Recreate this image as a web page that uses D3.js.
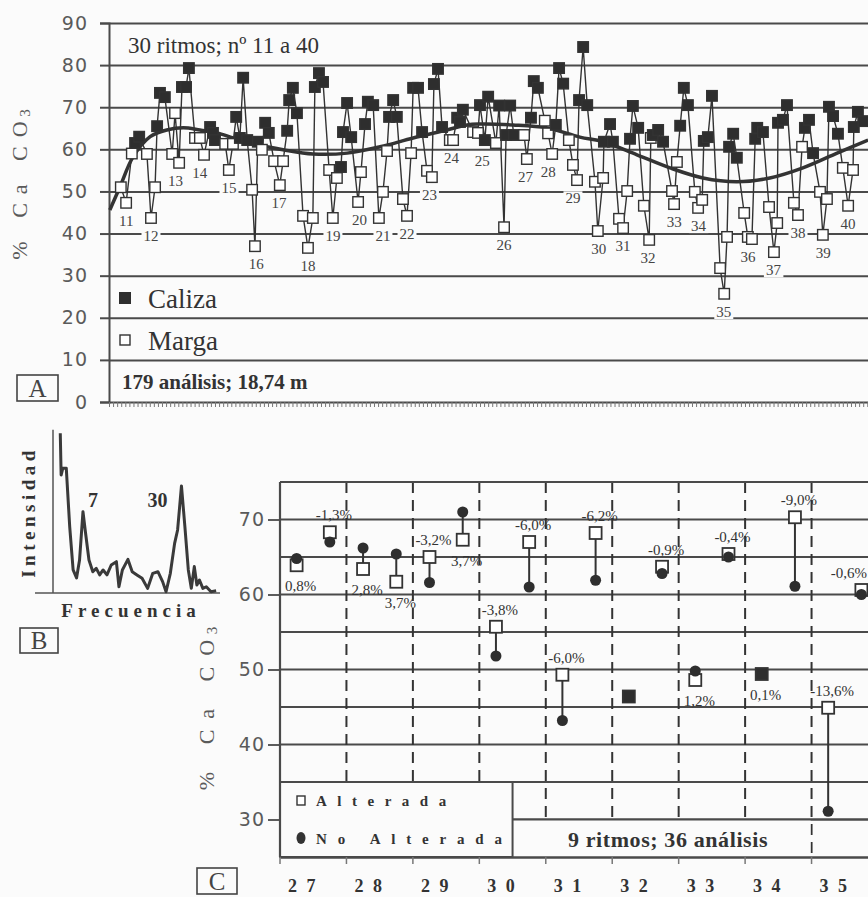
<!DOCTYPE html>
<html>
<head>
<meta charset="utf-8">
<script src="https://cdn.jsdelivr.net/npm/d3@7"></script>
<style>
  body { margin: 0; background: #fbfbfb; }
  svg { display: block; font-family: "Liberation Serif", "Times New Roman", serif; }
</style>
</head>
<body>
<div id="chart"></div>
<script>
// ---------- data ----------
// panel A: [rhythm, depth (m), % CaCO3, type]  C = caliza, M = marga
const samplesA = [
  [11,0.29,51.0,"M"],[11,0.42,47.3,"M"],[11,0.56,59.0,"M"],[11,0.64,61.5,"C"],[11,0.74,63.0,"C"],
  [12,0.93,58.9,"M"],[12,1.03,43.7,"M"],[12,1.13,51.0,"M"],[12,1.18,65.5,"C"],[12,1.25,73.4,"C"],[12,1.37,72.4,"C"],
  [13,1.55,58.9,"M"],[13,1.62,68.6,"M"],[13,1.72,56.8,"M"],[13,1.79,74.8,"C"],[13,1.89,74.8,"C"],[13,1.96,79.3,"C"],
  [14,2.11,62.7,"M"],[14,2.23,62.7,"M"],[14,2.33,58.7,"M"],[14,2.48,65.3,"C"],[14,2.55,63.9,"C"],[14,2.60,62.2,"C"],
  [15,2.85,61.3,"M"],[15,2.94,55.1,"M"],[15,3.04,61.3,"M"],[15,3.12,67.7,"C"],[15,3.21,62.7,"C"],[15,3.29,77.0,"C"],[15,3.39,62.2,"C"],
  [16,3.51,50.4,"M"],[16,3.58,37.0,"M"],[16,3.65,61.8,"C"],[16,3.75,59.9,"M"],[16,3.83,66.3,"C"],[16,3.92,63.9,"C"],
  [17,4.05,57.2,"M"],[17,4.19,51.5,"M"],[17,4.27,57.2,"M"],[17,4.37,64.4,"C"],[17,4.42,71.7,"C"],[17,4.51,74.6,"C"],[17,4.61,68.6,"C"],
  [18,4.76,44.2,"M"],[18,4.88,36.6,"M"],[18,5.00,43.7,"M"],[18,5.05,74.8,"C"],[18,5.15,78.1,"C"],[18,5.25,76.0,"C"],
  [19,5.40,55.1,"M"],[19,5.49,43.7,"M"],[19,5.59,53.2,"M"],[19,5.69,55.8,"C"],[19,5.74,64.1,"C"],[19,5.84,71.0,"C"],[19,5.94,62.9,"C"],
  [20,6.11,47.5,"M"],[20,6.18,54.6,"M"],[20,6.28,66.0,"C"],[20,6.35,71.3,"C"],[20,6.48,70.5,"C"],
  [21,6.62,43.7,"M"],[21,6.72,49.9,"M"],[21,6.82,59.6,"M"],[21,6.87,67.7,"C"],[21,6.97,71.7,"C"],[21,7.06,67.7,"C"],
  [22,7.21,48.2,"M"],[22,7.31,44.2,"M"],[22,7.41,59.1,"M"],[22,7.46,74.6,"C"],[22,7.58,74.6,"C"],[22,7.68,64.1,"C"],
  [23,7.80,54.9,"M"],[23,7.92,53.4,"M"],[23,7.97,75.5,"C"],[23,8.07,79.1,"C"],[23,8.17,65.3,"C"],
  [24,8.36,62.2,"M"],[24,8.44,62.2,"M"],[24,8.54,67.5,"C"],[24,8.61,66.5,"C"],[24,8.68,69.4,"C"],
  [25,8.93,64.1,"M"],[25,9.05,63.9,"M"],[25,9.10,70.5,"C"],[25,9.22,62.2,"C"],[25,9.30,72.5,"C"],[25,9.49,61.5,"M"],
  [26,9.57,70.4,"C"],[26,9.69,41.5,"M"],[26,9.74,63.4,"C"],[26,9.84,70.4,"C"],[26,9.93,63.4,"C"],
  [27,10.18,63.4,"M"],[27,10.25,57.7,"M"],[27,10.35,67.5,"C"],[27,10.42,76.2,"C"],[27,10.52,74.6,"C"],
  [28,10.69,66.8,"M"],[28,10.77,63.8,"M"],[28,10.87,58.9,"M"],[28,10.96,65.8,"C"],[28,11.04,79.3,"C"],[28,11.14,75.6,"C"],
  [29,11.28,62.2,"M"],[29,11.38,56.3,"M"],[29,11.48,52.7,"M"],[29,11.53,71.7,"C"],[29,11.63,84.3,"C"],[29,11.73,70.5,"C"],
  [30,11.92,52.3,"M"],[30,11.99,40.6,"M"],[30,12.12,53.2,"M"],[30,12.14,61.8,"C"],[30,12.29,66.0,"C"],[30,12.36,61.8,"C"],
  [31,12.51,43.5,"M"],[31,12.61,41.3,"M"],[31,12.71,50.1,"M"],[31,12.78,62.5,"C"],[31,12.85,70.3,"C"],[31,12.98,65.1,"C"],
  [32,13.12,46.6,"M"],[32,13.25,38.5,"M"],[32,13.29,62.7,"M"],[32,13.34,63.4,"C"],[32,13.47,64.6,"C"],[32,13.59,61.8,"C"],
  [33,13.81,50.1,"M"],[33,13.86,47.0,"M"],[33,13.93,57.0,"M"],[33,14.01,65.6,"C"],[33,14.10,74.6,"C"],[33,14.20,70.5,"C"],
  [34,14.37,49.9,"M"],[34,14.45,46.1,"M"],[34,14.55,48.0,"M"],[34,14.59,62.0,"C"],[34,14.69,62.9,"C"],[34,14.79,72.7,"C"],
  [35,14.99,31.8,"M"],[35,15.09,25.7,"M"],[35,15.16,39.2,"M"],[35,15.21,60.6,"C"],[35,15.31,63.7,"C"],[35,15.40,58.0,"C"],
  [36,15.58,44.9,"M"],[36,15.67,39.2,"M"],[36,15.77,38.7,"M"],[36,15.85,62.5,"C"],[36,15.90,65.1,"C"],[36,16.04,64.1,"C"],
  [37,16.19,46.3,"M"],[37,16.31,35.6,"M"],[37,16.39,42.5,"M"],[37,16.41,66.3,"C"],[37,16.53,67.0,"C"],[37,16.63,70.5,"C"],
  [38,16.80,47.3,"M"],[38,16.90,44.4,"M"],[38,17.00,60.6,"M"],[38,17.07,65.1,"C"],[38,17.17,67.0,"C"],[38,17.27,59.1,"C"],
  [39,17.44,49.9,"M"],[39,17.51,39.7,"M"],[39,17.61,48.2,"M"],[39,17.66,70.1,"C"],[39,17.76,67.9,"C"],[39,17.88,63.7,"C"],
  [40,18.00,55.6,"M"],[40,18.13,46.6,"M"],[40,18.25,55.1,"M"],[40,18.27,65.3,"C"],[40,18.37,68.9,"C"],[40,18.50,66.7,"C"]
];
// smoothed trend of panel A
const trendDepth = [0.02,0.27,0.59,1.01,1.42,1.82,2.23,2.65,3.04,3.46,3.88,4.27,5.00,5.84,6.65,7.46,8.29,8.78,9.10,9.91,10.74,11.55,12.12,12.95,13.76,14.57,15.40,16.21,17.02,17.86,18.62];
const trendValue = [45.6,51.1,58.2,63.0,64.6,65.1,64.6,63.9,62.7,61.5,60.6,59.9,58.9,59.1,60.6,62.7,64.6,65.8,66.0,65.8,65.1,62.9,61.8,58.7,55.6,53.2,52.3,53.2,55.6,59.1,62.2];
const ticksA = [0,10,20,30,40,50,60,70,80,90];

// panel B: spectrum
const specFreq = [1.7,1.9,2.3,3.1,3.9,4.7,5.5,6.2,7.0,7.6,8.4,9.3,10.1,10.9,11.7,12.6,13.6,14.8,15.4,16.2,17.5,18.5,19.6,20.8,22.1,23.3,24.5,25.6,26.4,27.4,28.4,29.1,30.0,30.8,31.6,32.3,33.0,33.6,34.2,35.0,35.8,36.9,38.1];
const specIntensity = [99.8,73.7,78,78,41.5,14.4,9.4,20.6,50.8,37.5,20.6,13.3,15.4,11.3,14.4,11.3,17.5,19.6,3.9,14.4,21.0,13.3,11.3,9.2,2.9,12.3,13.3,7.1,0.8,12.3,31.0,39.4,66.9,41.5,14.4,2.9,16.5,5,8.1,2.9,3.9,0.8,1.4];

// panel C: two samples per rhythm
const rhythmsC = [27,28,29,30,31,32,33,34,35];
const ticksC = [30,40,50,60,70];
const cRhythm = [27,27,28,28,29,29,30,30,31,31,32,32,33,33,34,34,35,35];
const cAlterada = [63.9,68.3,63.4,61.7,65.0,67.3,55.7,67.0,49.3,68.2,46.4,63.7,48.6,65.4,49.4,70.3,44.9,60.6];
const cNoAlterada = [64.8,67.0,66.2,65.4,61.6,71.0,51.8,61.0,43.2,61.9,null,62.8,49.8,65.0,null,61.1,31.1,60.0];
const cLabels = ["0,8%","-1,3%","2,8%","3,7%","-3,2%","3,7%","-3,8%","-6,0%","-6,0%","-6,2%","","-0,9%","1,2%","-0,4%","0,1%","-9,0%","-13,6%","-0,6%"];

// ---------- drawing ----------
const W = 868, H = 897;
const ink = "#333", grid = "#4a4a4a", grey = "#5a5a5a", bg = "#fbfbfb";

const svg = d3.select("#chart").append("svg")
    .attr("width", W)
    .attr("height", H);
svg.append("rect").attr("width", W).attr("height", H).attr("fill", bg);

function boxLetter(x, y, w, h, s) {
  svg.append("rect").attr("x", x).attr("y", y).attr("width", w).attr("height", h)
    .attr("fill", "none").attr("stroke", "#444").attr("stroke-width", 1.6);
  svg.append("text").attr("x", x + w / 2).attr("y", y + h - 4).attr("text-anchor", "middle")
    .attr("font-size", 25).attr("fill", "#444").text(s);
}

function yTitle(x, y, spacing) {
  const t = svg.append("text")
    .attr("transform", `translate(${x},${y}) rotate(-90)`)
    .attr("text-anchor", "middle").attr("font-size", 22).attr("fill", grey)
    .attr("letter-spacing", spacing);
  t.append("tspan").text("% Ca CO");
  t.append("tspan").attr("font-size", 15).attr("dy", 3).attr("dx", -spacing / 2).text("3");
}

// ===== panel A =====
const xA = d3.scaleLinear().domain([0, 18.74]).range([109, 873]);
const yA = d3.scaleLinear().domain([0, 90]).range([402, 23]);
const gA = svg.append("g");

// horizontal grid
gA.append("g")
    .attr("transform", "translate(109,0)")
    .call(d3.axisLeft(yA).tickValues(ticksA).tickSize(-(W - 109)).tickFormat(""))
    .call(g => g.select(".domain").remove())
    .call(g => g.selectAll("line").attr("stroke", grid).attr("stroke-width", 2));
// tick labels and stubs
gA.append("g")
    .attr("transform", "translate(109,0)")
    .call(d3.axisLeft(yA).tickValues(ticksA).tickSize(9).tickPadding(12))
    .call(g => g.select(".domain").attr("stroke", grid).attr("stroke-width", 2))
    .call(g => g.selectAll("line").attr("stroke", grid).attr("stroke-width", 2))
    .call(g => g.selectAll("text").attr("font-family", "DejaVu Sans").attr("font-size", 19)
      .attr("fill", grey).attr("letter-spacing", 1));
// ruler ticks on the bottom
gA.append("g")
    .attr("transform", `translate(0,${yA(0)})`)
    .call(d3.axisBottom(xA).tickValues(d3.range(0, 18.75, 0.1)).tickSize(5).tickFormat(""))
    .call(g => g.select(".domain").remove())
    .call(g => g.selectAll("line").attr("stroke", "#777").attr("stroke-width", 1));

gA.append("text").attr("x", 128).attr("y", 53).attr("font-size", 23).attr("fill", ink)
  .text("30 ritmos; nº 11 a 40");

// connecting line
gA.append("path")
    .datum(samplesA)
    .attr("d", d3.line().x(d => xA(d[1])).y(d => yA(d[2])))
    .attr("fill", "none").attr("stroke", ink).attr("stroke-width", 1.4);

// trend
gA.append("path")
    .datum(d3.zip(trendDepth, trendValue))
    .attr("d", d3.line().curve(d3.curveCatmullRom).x(d => xA(d[0])).y(d => yA(d[1])))
    .attr("fill", "none").attr("stroke", "#333").attr("stroke-width", 3.5);

// markers
const sq = 10.5;
gA.selectAll("rect.s").data(samplesA).join("rect")
    .attr("x", d => xA(d[1]) - sq / 2).attr("y", d => yA(d[2]) - sq / 2)
    .attr("width", sq).attr("height", sq)
    .attr("fill", d => d[3] === "C" ? "#2e2e2e" : "#fff")
    .attr("stroke", ink).attr("stroke-width", 1.4);

// rhythm numbers under the lowest marga of each rhythm
const byRhythm = d3.groups(samplesA, d => d[0]);
byRhythm.forEach(([r, pts]) => {
  const marga = pts.filter(p => p[3] === "M");
  const cx = d3.mean(marga, p => xA(p[1]));
  const cy = yA(d3.min(marga, p => p[2])) + 18;
  const t = gA.append("text").attr("x", cx).attr("y", cy).attr("dy", "0.35em")
    .attr("text-anchor", "middle").attr("font-size", 15).attr("fill", "#444").text(r);
  const b = t.node().getBBox();
  gA.insert("rect", () => t.node()).attr("x", b.x - 2).attr("y", b.y + 1)
    .attr("width", b.width + 4).attr("height", b.height - 2).attr("fill", bg);
});

// legend A
gA.append("rect").attr("x", 119).attr("y", 292).attr("width", 12).attr("height", 12).attr("fill", "#2e2e2e");
gA.append("text").attr("x", 148).attr("y", 308).attr("font-size", 27).attr("fill", ink).text("Caliza");
gA.append("rect").attr("x", 120).attr("y", 335).attr("width", 10).attr("height", 10)
  .attr("fill", "#fff").attr("stroke", ink).attr("stroke-width", 1.4);
gA.append("text").attr("x", 148).attr("y", 350).attr("font-size", 27).attr("fill", ink).text("Marga");
gA.append("text").attr("x", 122).attr("y", 389).attr("font-size", 21).attr("font-weight", "bold")
  .attr("fill", ink).text("179 análisis; 18,74 m");

yTitle(27, 180, 9);
boxLetter(17, 375, 41, 26, "A");

// ===== panel B =====
const xB = d3.scaleLinear().domain([0, 39]).range([53, 220]);
const yB = d3.scaleLinear().domain([0, 100]).range([593, 433]);
const gB = svg.append("g");
gB.append("line").attr("x1", xB(0)).attr("x2", xB(0)).attr("y1", yB(102)).attr("y2", yB(0))
  .attr("stroke", "#555").attr("stroke-width", 1.5);
gB.append("line").attr("x1", 35).attr("x2", xB(39)).attr("y1", yB(0)).attr("y2", yB(0))
  .attr("stroke", "#555").attr("stroke-width", 1.5);
gB.append("path")
    .datum(d3.zip(specFreq, specIntensity))
    .attr("d", d3.line().x(d => xB(d[0])).y(d => yB(d[1])))
    .attr("fill", "none").attr("stroke", "#3a3a3a").attr("stroke-width", 3).attr("stroke-linejoin", "round");
gB.append("text").attr("x", xB(7) + 5).attr("y", yB(54)).attr("font-size", 20).attr("font-weight", "bold")
  .attr("fill", ink).text("7");
gB.append("text").attr("x", xB(30) - 14).attr("y", yB(54)).attr("text-anchor", "end").attr("font-size", 20)
  .attr("font-weight", "bold").attr("fill", ink).text("30");
gB.append("text").attr("transform", "translate(35,512) rotate(-90)").attr("text-anchor", "middle")
  .attr("font-size", 19).attr("font-weight", "bold").attr("letter-spacing", 4.5).attr("fill", ink).text("Intensidad");
gB.append("text").attr("x", 131).attr("y", 617).attr("text-anchor", "middle")
  .attr("font-size", 19).attr("font-weight", "bold").attr("letter-spacing", 5).attr("fill", ink).text("Frecuencia");
boxLetter(20, 628, 38, 25, "B");

// ===== panel C =====
const xC = d3.scaleBand().domain(rhythmsC).range([280, 878]);
const slot = d3.scaleBand().domain([0, 1]).range([0, xC.bandwidth()]);
const yC = d3.scaleLinear().domain([25, 75]).range([857, 482]);
const gC = svg.append("g");

// grid lines every 5
gC.selectAll("line.g").data(d3.range(30, 75, 5)).join("line")
    .attr("x1", 280).attr("x2", W).attr("y1", d => yC(d)).attr("y2", d => yC(d))
    .attr("stroke", grid).attr("stroke-width", 1.8);
gC.append("g")
    .attr("transform", "translate(280,0)")
    .call(d3.axisLeft(yC).tickValues(ticksC).tickSize(12).tickPadding(3))
    .call(g => g.select(".domain").remove())
    .call(g => g.selectAll("line").attr("stroke", grid).attr("stroke-width", 1.8))
    .call(g => g.selectAll("text").attr("font-family", "DejaVu Sans").attr("font-size", 19)
      .attr("fill", grey).attr("letter-spacing", 1));

// dashed boundaries
gC.selectAll("line.d").data(rhythmsC.slice(1)).join("line")
    .attr("x1", d => xC(d)).attr("x2", d => xC(d)).attr("y1", yC(75)).attr("y2", yC(25))
    .attr("stroke", ink).attr("stroke-width", 2).attr("stroke-dasharray", "11,7");

// legend box and caption box
const legRight = xC(30) + xC.bandwidth() / 2;
gC.append("rect").attr("x", legRight).attr("y", yC(30)).attr("width", xC(35) - legRight - 1)
  .attr("height", yC(25) - yC(30)).attr("fill", bg);
gC.append("line").attr("x1", legRight).attr("x2", W).attr("y1", yC(30)).attr("y2", yC(30))
  .attr("stroke", grid).attr("stroke-width", 1.8);
gC.append("rect").attr("x", 280).attr("y", yC(35)).attr("width", legRight - 280)
  .attr("height", yC(25) - yC(35)).attr("fill", bg).attr("stroke", grid).attr("stroke-width", 2);
gC.append("text").attr("x", (legRight + xC(35)) / 2 + 6).attr("y", 847).attr("text-anchor", "middle")
  .attr("font-size", 22).attr("font-weight", "bold").attr("fill", ink).attr("letter-spacing", 0.6)
  .text("9 ritmos; 36 análisis");

gC.append("rect").attr("x", 297).attr("y", 796).attr("width", 8).attr("height", 9)
  .attr("fill", "#fff").attr("stroke", ink).attr("stroke-width", 1.4);
gC.append("text").attr("x", 316).attr("y", 806).attr("font-size", 15).attr("font-weight", "bold")
  .attr("letter-spacing", 10.5).attr("fill", ink).text("Alterada");
gC.append("ellipse").attr("cx", 301).attr("cy", 838).attr("rx", 4.5).attr("ry", 6).attr("fill", "#333");
gC.append("text").attr("x", 316).attr("y", 844).attr("font-size", 15).attr("font-weight", "bold")
  .attr("letter-spacing", 10.8).attr("fill", ink).text("No Alterada");

// frame
gC.append("line").attr("x1", 280).attr("x2", W).attr("y1", yC(75)).attr("y2", yC(75))
  .attr("stroke", grid).attr("stroke-width", 2.2);
gC.append("line").attr("x1", 280).attr("x2", 280).attr("y1", yC(75)).attr("y2", yC(25))
  .attr("stroke", grid).attr("stroke-width", 2.2);
gC.append("g")
    .attr("transform", `translate(0,${yC(25)})`)
    .call(d3.axisBottom(xC).tickSize(0).tickFormat(""))
    .call(g => g.select(".domain").attr("stroke", grid).attr("stroke-width", 2.4));
gC.selectAll("line.t").data(rhythmsC).join("line")
    .attr("x1", d => xC(d)).attr("x2", d => xC(d)).attr("y1", yC(25)).attr("y2", yC(25) + 7)
    .attr("stroke", "#777").attr("stroke-width", 1.5);
gC.selectAll("text.t").data(rhythmsC).join("text")
    .attr("x", d => xC(d) + 8).attr("y", 892)
    .attr("font-size", 18).attr("font-weight", "bold").attr("letter-spacing", 9.5).attr("fill", ink)
    .text(d => d);

// pairs
const pairs = cRhythm.map((r, i) => ({
  x: xC(r) + slot(i % 2) + slot.bandwidth() / 2,
  alt: cAlterada[i], no: cNoAlterada[i], label: cLabels[i]
}));
gC.selectAll("line.p").data(pairs.filter(p => p.no !== null)).join("line")
    .attr("x1", d => d.x).attr("x2", d => d.x).attr("y1", d => yC(d.alt)).attr("y2", d => yC(d.no))
    .attr("stroke", ink).attr("stroke-width", 2);
const s2 = 12;
gC.selectAll("rect.p").data(pairs).join("rect")
    .attr("x", d => d.x - s2 / 2).attr("y", d => yC(d.alt) - s2 / 2)
    .attr("width", s2).attr("height", s2)
    .attr("fill", d => d.no === null ? "#2e2e2e" : "#fff")
    .attr("stroke", ink).attr("stroke-width", 1.8);
gC.selectAll("circle.p").data(pairs.filter(p => p.no !== null)).join("circle")
    .attr("cx", d => d.x).attr("cy", d => yC(d.no)).attr("r", 5.5).attr("fill", "#2e2e2e");
gC.selectAll("text.p").data(pairs.filter(p => p.label)).join("text")
    .attr("x", d => d.x + 4)
    .attr("y", d => d.label.startsWith("-") ? yC(d.alt) - 12 : yC(d.alt) + 26)
    .attr("text-anchor", "middle").attr("font-size", 15).attr("fill", ink)
    .text(d => d.label)
    .each(function() {
      // keep labels inside the page
      const b = this.getBBox();
      if (b.x + b.width > W - 1) d3.select(this).attr("x", +this.getAttribute("x") - (b.x + b.width - W + 1));
    });

yTitle(214, 703, 11);
boxLetter(197, 868, 40, 26, "C");
</script>
</body>
</html>
